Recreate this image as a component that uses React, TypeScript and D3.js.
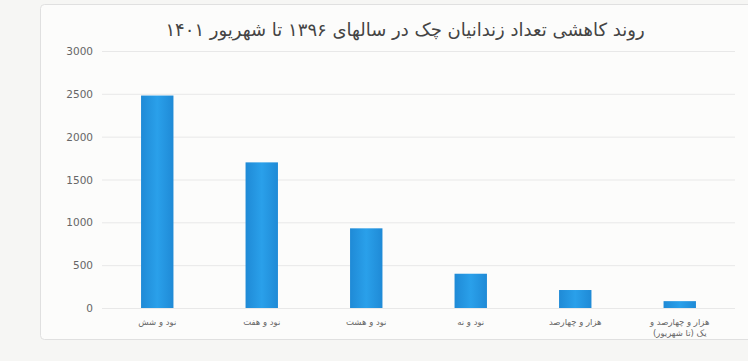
import React, { useRef, useEffect } from 'react';
import * as d3 from 'd3';

// categories (years 96..1401)
const categories: string[] = [
  'نود و شش',
  'نود و هفت',
  'نود و هشت',
  'نود و نه',
  'هزار و چهارصد',
  'هزار و چهارصد و یک (تا شهریور)',
];
// label lines as drawn under each bar
const categoryLines: string[][] = [
  ['نود و شش'],
  ['نود و هفت'],
  ['نود و هشت'],
  ['نود و نه'],
  ['هزار و چهارصد'],
  ['هزار و چهارصد و', 'یک (تا شهریور)'],
];
const prisoners: number[] = [2480, 1700, 930, 400, 210, 80];
const yTicks: number[] = [0, 500, 1000, 1500, 2000, 2500, 3000];
const title = 'روند کاهشی تعداد زندانیان چک در سالهای ۱۳۹۶ تا شهریور ۱۴۰۱';

const ChartView: React.FC = () => {
  const ref = useRef<SVGSVGElement | null>(null);

  useEffect(() => {
    if (!ref.current) return;
    const width = 748;
    const height = 361;
    const svg = d3.select(ref.current);
    svg.attr('width', width).attr('height', height);
    svg.selectAll('*').remove();

    const font = '"DejaVu Sans", "Liberation Sans", sans-serif';

    // page-ish background
    svg.append('rect')
      .attr('width', width)
      .attr('height', height)
      .attr('fill', '#f6f6f4');

    // chart frame
    svg.append('rect')
      .attr('x', 40.5)
      .attr('y', 4.5)
      .attr('width', 722)
      .attr('height', 335)
      .attr('rx', 4)
      .attr('fill', '#fcfcfb')
      .attr('stroke', '#e0e0e0');

    const x = d3.scaleBand<string>()
      .domain(categories)
      .range([105, 732])
      .paddingInner(0.69)
      .paddingOuter(0.345);

    const y = d3.scaleLinear().domain([0, 3000]).range([308, 51]);

    // gridlines
    svg.append('g')
      .selectAll('line')
      .data(yTicks)
      .enter()
      .append('line')
      .attr('x1', 102)
      .attr('x2', 735)
      .attr('y1', d => y(d) + 0.5)
      .attr('y2', d => y(d) + 0.5)
      .attr('stroke', '#e8e8e8')
      .attr('stroke-width', 1);

    // y axis labels
    svg.append('g')
      .selectAll('text')
      .data(yTicks)
      .enter()
      .append('text')
      .attr('x', 93)
      .attr('y', d => y(d) + 4)
      .attr('text-anchor', 'end')
      .attr('fill', '#666')
      .style('font-family', font)
      .style('font-size', '10.5px')
      .text(d => String(d));

    // bars
    const grad = svg.append('defs')
      .append('linearGradient')
      .attr('id', 'bar-grad')
      .attr('x1', '0').attr('x2', '1').attr('y1', '0').attr('y2', '0');
    grad.append('stop').attr('offset', '0').attr('stop-color', '#1f8ad6');
    grad.append('stop').attr('offset', '0.5').attr('stop-color', '#2aa0ea');
    grad.append('stop').attr('offset', '1').attr('stop-color', '#1f8ad6');

    svg.append('g')
      .selectAll('rect')
      .data(prisoners)
      .enter()
      .append('rect')
      .attr('x', (_, i) => x(categories[i]) as number)
      .attr('y', d => y(d))
      .attr('width', x.bandwidth())
      .attr('height', d => y(0) - y(d))
      .attr('fill', 'url(#bar-grad)');

    // x labels
    const labels = svg.append('g');
    categoryLines.forEach((lines, i) => {
      const cx = (x(categories[i]) as number) + x.bandwidth() / 2;
      lines.forEach((line, j) => {
        labels.append('text')
          .attr('x', cx)
          .attr('y', 325 + j * 11)
          .attr('text-anchor', 'middle')
          .attr('direction', 'rtl')
          .attr('fill', '#666')
          .style('font-family', font)
          .style('font-size', '8.5px')
          .text(line);
      });
    });

    // title
    svg.append('text')
      .attr('x', 405)
      .attr('y', 36)
      .attr('text-anchor', 'middle')
      .attr('direction', 'rtl')
      .attr('fill', '#444')
      .style('font-family', font)
      .style('font-size', '18px')
      .text(title);
  }, []);

  return <svg ref={ref} style={{ display: 'block' }}></svg>;
};

export default function App() {
  return (
    <div style={{ position: 'fixed', left: 0, top: 0 }}>
      <ChartView />
    </div>
  );
}
